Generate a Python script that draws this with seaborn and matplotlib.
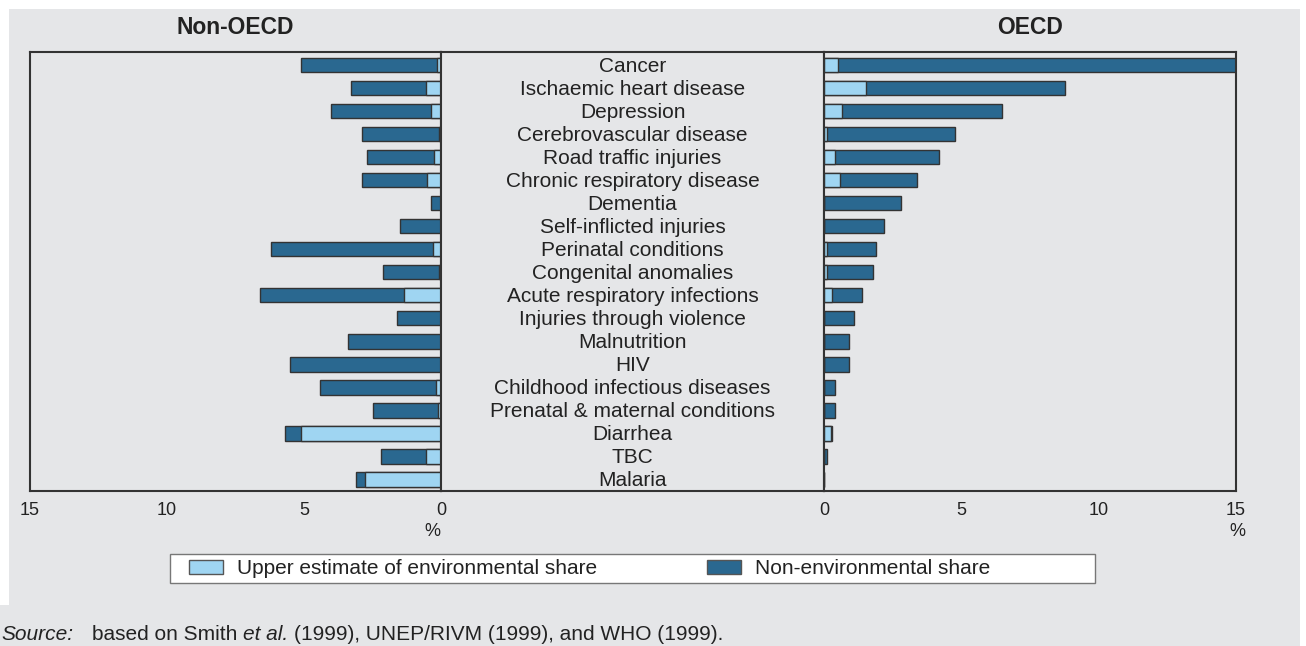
import matplotlib
matplotlib.use("Agg")
import matplotlib.pyplot as plt
import seaborn as sns
import pandas as pd
from matplotlib.patches import Patch, Rectangle

# data (percent of burden)
categories = ["Cancer", "Ischaemic heart disease", "Depression", "Cerebrovascular disease",
              "Road traffic injuries", "Chronic respiratory disease", "Dementia",
              "Self-inflicted injuries", "Perinatal conditions", "Congenital anomalies",
              "Acute respiratory infections", "Injuries through violence", "Malnutrition",
              "HIV", "Childhood infectious diseases", "Prenatal & maternal conditions",
              "Diarrhea", "TBC", "Malaria"]
non_oecd_total = [5.1, 3.3, 4.0, 2.9, 2.7, 2.9, 0.38, 1.5, 6.2, 2.1, 6.6, 1.6, 3.4, 5.5, 4.4, 2.5, 5.7, 2.2, 3.1]
non_oecd_env = [0.13, 0.55, 0.38, 0.07, 0.25, 0.5, 0, 0, 0.29, 0.07, 1.34, 0, 0, 0, 0.18, 0.11, 5.1, 0.53, 2.77]
oecd_total = [15.0, 8.77, 6.48, 4.78, 4.19, 3.39, 2.79, 2.18, 1.89, 1.8, 1.39, 1.09, 0.9, 0.9, 0.4, 0.4, 0.3, 0.1, 0]
oecd_env = [0.52, 1.54, 0.64, 0.1, 0.4, 0.59, 0, 0, 0.1, 0.1, 0.29, 0, 0, 0, 0, 0, 0.27, 0, 0]
ticks = [0, 5, 10, 15]

DARK = "#2a6890"
LIGHT = "#9fd5f2"
EDGE = "#333333"
BG = "#e5e6e8"
TXT = "#222222"

sns.set_style("white")
plt.rcParams['font.family'] = ['Liberation Sans', 'DejaVu Sans']

W, H = 1306, 646
fig = plt.figure(figsize=(W / 100, H / 100), dpi=100)
fig.patch.set_facecolor("white")


def fx(px):
    return px / W


def fy(py):
    return 1 - py / H


# grey page background
fig.patches.append(Rectangle((fx(9), 0), fx(1300) - fx(9), fy(9), transform=fig.transFigure,
                             facecolor=BG, edgecolor="none", zorder=-10))
fig.patches.append(Rectangle((0, 0), fx(1300), fy(605), transform=fig.transFigure,
                             facecolor=BG, edgecolor="none", zorder=-10))

top, bottom = 52, 491
h = (bottom - top) / H
axL = fig.add_axes([fx(30), fy(bottom), (441 - 30) / W, h])
axM = fig.add_axes([fx(441), fy(bottom), (824 - 441) / W, h])
axR = fig.add_axes([fx(824), fy(bottom), (1236 - 824) / W, h])

df_non = pd.DataFrame({"cat": categories, "total": non_oecd_total, "env": non_oecd_env})
df_oecd = pd.DataFrame({"cat": categories, "total": oecd_total, "env": oecd_env})

for ax, df in [(axL, df_non), (axR, df_oecd)]:
    sns.barplot(data=df, x="total", y="cat", orient="h", color=DARK, saturation=1,
                width=0.65, edgecolor=EDGE, linewidth=1, ax=ax)
    sns.barplot(data=df, x="env", y="cat", orient="h", color=LIGHT, saturation=1,
                width=0.65, edgecolor=EDGE, linewidth=1, ax=ax)
    ax.set_xticks(ticks)
    ax.set_xticklabels([str(t) for t in ticks])
    ax.tick_params(axis="x", direction="in", length=10, width=1.5, color="#444444",
                   pad=8, labelsize=13, labelcolor=TXT)

axL.set_xlim(15, 0)
axR.set_xlim(0, 15)

for ax in [axL, axM, axR]:
    ax.set_facecolor(BG)
    ax.set_ylim(18.52, -0.565)
    ax.set_yticks([])
    ax.set_xlabel("")
    ax.set_ylabel("")
    for s in ax.spines.values():
        s.set_visible(True)
        s.set_color(EDGE)
        s.set_linewidth(1.5)
axM.set_xticks([])

for i, c in enumerate(categories):
    axM.text(0.5, i + 0.08, c, transform=axM.get_yaxis_transform(), ha="center", va="center",
             fontsize=15, color=TXT)

axL.text(0.5, 1 + 24.5 / 439, "Non-OECD", transform=axL.transAxes, ha="center", va="center",
         fontsize=16.5, fontweight="bold", color=TXT)
axR.text(0.5, 1 + 24.5 / 439, "OECD", transform=axR.transAxes, ha="center", va="center",
         fontsize=16.5, fontweight="bold", color=TXT)

axL.text((432 - 30) / 411, -40 / 439, "%", transform=axL.transAxes, ha="center", va="center",
         fontsize=13, color=TXT)
axR.text((1237 - 824) / 412, -41 / 439, "%", transform=axR.transAxes, ha="center", va="center",
         fontsize=13, color=TXT)

# legend
fig.patches.append(Rectangle((fx(170), fy(583)), (1095 - 170) / W, (583 - 554) / H,
                             transform=fig.transFigure, facecolor="white", edgecolor="#777777",
                             linewidth=1, zorder=1))
handles = [Patch(facecolor=LIGHT, edgecolor="#555555", linewidth=1),
           Patch(facecolor=DARK, edgecolor="#555555", linewidth=1)]
fig.legend(handles, ["Upper estimate of environmental share", "Non-environmental share"],
           loc="center left", bbox_to_anchor=(fx(170), fy(569)), frameon=False, ncol=2,
           fontsize=15, handlelength=1.63, handleheight=0.63, handletextpad=0.67,
           columnspacing=5.3, borderpad=0.9, borderaxespad=0, labelcolor=TXT)

# source line with mixed styles
fig.canvas.draw()
r = fig.canvas.get_renderer()
fig.text(fx(1), fy(634), "Source:", style="italic", fontsize=15, va="center", color=TXT)
parts = [("based on Smith", "normal"), ("et al.", "italic"), ("(1999), UNEP/RIVM (1999), and WHO (1999).", "normal")]
x = 92
sp = 5.8
for txt, st in parts:
    t = fig.text(fx(x), fy(634), txt, style=st, fontsize=15, va="center", color=TXT)
    x = t.get_window_extent(renderer=r).x1 + sp

fig.savefig("out.png", dpi=100)
